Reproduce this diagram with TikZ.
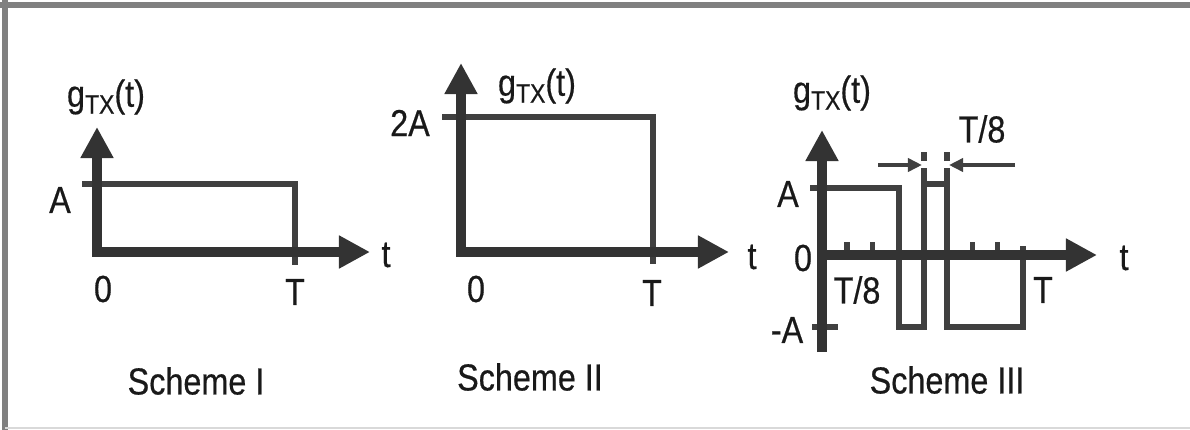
\documentclass[tikz,border=0pt]{standalone}
\usepackage{fontspec}
\setmainfont[FakeStretch=0.86,FakeBold=0.5]{Liberation Sans}
\usetikzlibrary{arrows.meta,positioning}
\tikzset{
  axis/.style={line width=2.6pt, draw=black!80, line join=miter},
  bigtip/.tip={Triangle[length=0.31cm,width=0.31cm]},
  pulse/.style={line width=1.5pt, draw=black!75},
  dimline/.style={line width=1.2pt, draw=black!75, -{Triangle[length=0.14cm,width=0.13cm]}},
  lbl/.style={font=\fontsize{10.7}{12}\selectfont, inner sep=0pt, text=black!90},
}
\newcommand{\gtx}{g\raisebox{-0.35ex}{\fontsize{7.6}{8}\selectfont TX}(t)}
\begin{document}
\begin{tikzpicture}[x=0.01cm,y=-0.01cm]
\useasboundingbox (0,0) rectangle (1190,430);
% frame
\draw[line width=1.5pt, black!50] (0,5) -- (1190,5);
\draw[line width=1.5pt, black!50] (5,0) -- (5,430);
\draw[line width=0.3pt, black!15] (5,428) -- (1190,428);

% Scheme I
\coordinate (o1) at (97,252);
\draw[pulse] (82,184) -- (295,184) -- (295,265);
\draw[axis, bigtip-bigtip] (97,127) -- (o1) -- (370,252);
\node[lbl] (a1) at (60,200) {A};
\node[lbl] (z1) at (103,289) {0};
\node[lbl] (T1) at (295,292) {T};
\node[lbl] (t1) at (386,255) {t};
\node[lbl] (g1) at (106,97) {\gtx};
\node[lbl] (s1) at (196,381) {Scheme I};

% Scheme II
\coordinate (o2) at (461,252);
\draw[pulse] (442,117) -- (653,117) -- (653,264);
\draw[axis, bigtip-bigtip] (461,63) -- (o2) -- (729,252);
\node[lbl] (a2) at (410,123) {2A};
\node[lbl] (z2) at (476,289) {0};
\node[lbl] (T2) at (652,293) {T};
\node[lbl] (t2) at (752,257) {t};
\node[lbl] (g2) at (537,86) {\gtx};
\node[lbl] (s2) at (530,377) {Scheme II};

% Scheme III
\coordinate (o3) at (822,255);
\foreach \k in {1,2,6,7} {\draw[pulse] ({822+25.1*\k},242) -- ({822+25.1*\k},255);}
\draw[pulse] (810,188) -- (899,188) -- (899,327) -- (924,327) -- (924,184) -- (947,184) -- (947,327) -- (1023,327) -- (1023,246);
\draw[pulse] (812,327) -- (838,327);
\draw[pulse] (924,184) -- (924,168) (924,161) -- (924,152);
\draw[pulse] (947,184) -- (947,168) (947,161) -- (947,152);
\draw[axis] (822,352) -- (o3);
\draw[axis, -bigtip] (822,258) -- (822,130);
\draw[axis, -bigtip] (o3) -- (1097,255);
\coordinate (l3) at (878,165);
\coordinate (r3) at (1015,165);
\draw[dimline] (l3) -- (922,165);
\draw[dimline] (r3) -- (949,165);
\node[lbl] (a3) at (788,194) {A};
\node[lbl] (z3) at (803,258) {0};
\node[lbl] (m3) at (787,330) {-A};
\node[lbl] (e3) at (857,290) {T/8};
\node[lbl] (T3) at (1043,290) {T};
\node[lbl] (t3) at (1124,258) {t};
\node[lbl] (d3) at (982,129) {T/8};
\node[lbl] (g3) at (832,93) {\gtx};
\node[lbl] (s3) at (947,380) {Scheme III};
\end{tikzpicture}
\end{document}
